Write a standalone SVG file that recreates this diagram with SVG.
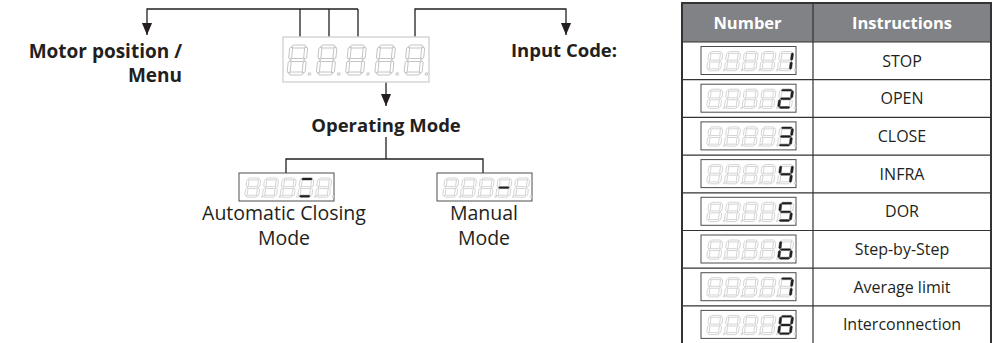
<svg xmlns="http://www.w3.org/2000/svg" xmlns:xlink="http://www.w3.org/1999/xlink" width="997" height="343" viewBox="0 0 997 343">
<style>
.lbl{font-family:"Open Sans","Noto Sans","Liberation Sans",sans-serif;fill:#231f20}
.b{font-weight:bold;font-size:18.5px}
.r{font-size:19.5px}
.th{font-family:"Open Sans","Noto Sans","Liberation Sans",sans-serif;font-weight:bold;font-size:16.5px;fill:#fff}
.td{font-family:"Open Sans","Noto Sans","Liberation Sans",sans-serif;font-size:16px;fill:#231f20}
.con{fill:none;stroke:#231f20;stroke-width:1.3}
.grid{stroke:#333;stroke-width:1.2}
</style>
<defs>
<marker id="ah" markerUnits="userSpaceOnUse" markerWidth="12" markerHeight="13" refX="13" refY="5.5" orient="auto" viewBox="0 0 13 11">
<path d="M0,0 L13,5.5 L0,11 Z" fill="#231f20"/>
</marker>
<path id="sa" d="M2,1.5 L3.5,0 L14.5,0 L16,1.5 L14.5,3 L3.5,3 Z"/>
<path id="sg" d="M2,15 L3.5,13.5 L14.5,13.5 L16,15 L14.5,16.5 L3.5,16.5 Z"/>
<path id="sd" d="M2,28.5 L3.5,27 L14.5,27 L16,28.5 L14.5,30 L3.5,30 Z"/>
<path id="sf" d="M1.5,2 L3,3.5 L3,12.5 L1.5,14 L0,12.5 L0,3.5 Z"/>
<path id="sb" d="M16.5,2 L18,3.5 L18,12.5 L16.5,14 L15,12.5 L15,3.5 Z"/>
<path id="se" d="M1.5,16 L3,17.5 L3,26.5 L1.5,28 L0,26.5 L0,17.5 Z"/>
<path id="sc" d="M16.5,16 L18,17.5 L18,26.5 L16.5,28 L15,26.5 L15,17.5 Z"/>
<g id="dg" fill="#fff" stroke="#c4c4c4" stroke-width="1">
<use href="#sa"/><use href="#sb"/><use href="#sc"/><use href="#sd"/><use href="#se"/><use href="#sf"/><use href="#sg"/>
<circle cx="22.5" cy="29" r="1.3"/>
</g>
<g id="small">
<rect x="0" y="0" width="95" height="28" fill="#fff" stroke="#4d4d4d" stroke-width="1"/>
<use href="#dg" transform="translate(8,5) scale(0.78,0.64) skewX(-6)"/>
<use href="#dg" transform="translate(25.7,5) scale(0.78,0.64) skewX(-6)"/>
<use href="#dg" transform="translate(43.4,5) scale(0.78,0.64) skewX(-6)"/>
<use href="#dg" transform="translate(61.1,5) scale(0.78,0.64) skewX(-6)"/>
<use href="#dg" transform="translate(78.8,5) scale(0.78,0.64) skewX(-6)"/>
</g>
</defs>
<rect width="997" height="343" fill="#fff"/>

<g id="connectors">
<path class="con" d="M300,37 V9 M329,37 V9 M358,37 V9 M358,9 H147 V35" marker-end="url(#ah)"/>
<path class="con" d="M415,37 V9 H566 V35" marker-end="url(#ah)"/>
<path class="con" d="M386,82 V106" marker-end="url(#ah)"/>
<path class="con" d="M386,137 V159 M286,173 V159 H483 V173"/>
</g>

<g id="main-display">
<rect x="283" y="37" width="146" height="45" fill="#fff" stroke="#d6d6d6" stroke-width="1.5"/>
<use href="#dg" transform="translate(290,45) skewX(-6)"/>
<use href="#dg" transform="translate(319.25,45) skewX(-6)"/>
<use href="#dg" transform="translate(348.5,45) skewX(-6)"/>
<use href="#dg" transform="translate(377.75,45) skewX(-6)"/>
<use href="#dg" transform="translate(407,45) skewX(-6)"/>
</g>

<g id="motor-position">
<text class="lbl b" x="182" y="58" text-anchor="end" style="font-size:19px">Motor position /</text>
<text class="lbl b" x="182" y="82" text-anchor="end" style="font-size:19px">Menu</text>
</g>
<g id="input-code">
<text class="lbl b" x="564" y="57" text-anchor="middle">Input Code:</text>
</g>
<g id="operating-mode">
<text class="lbl b" x="386" y="132" text-anchor="middle">Operating Mode</text>
</g>

<g id="auto-closing-mode">
<use href="#small" x="239" y="173"/>
<g transform="translate(239,173)"><g transform="translate(61.1,5) scale(0.78,0.64) skewX(-6)" fill="#231f20" stroke="#231f20" stroke-width="0.4"><use href="#sa"/><use href="#sd"/></g></g>
<text class="lbl r" x="284" y="220" text-anchor="middle">Automatic Closing</text>
<text class="lbl r" x="284" y="245" text-anchor="middle">Mode</text>
</g>

<g id="manual-mode">
<use href="#small" x="437" y="173"/>
<g transform="translate(437,173)"><g transform="translate(61.1,5) scale(0.78,0.64) skewX(-6)" fill="#231f20" stroke="#231f20" stroke-width="0.4"><use href="#sg"/></g></g>
<text class="lbl r" x="484" y="220" text-anchor="middle">Manual</text>
<text class="lbl r" x="484" y="245" text-anchor="middle">Mode</text>
</g>

<g id="table">
<rect x="682" y="3" width="309" height="39" fill="#808285"/>
<g class="grid">
<line x1="682" y1="42" x2="991" y2="42"/>
<line x1="682" y1="79.7" x2="991" y2="79.7"/>
<line x1="682" y1="117.4" x2="991" y2="117.4"/>
<line x1="682" y1="155.1" x2="991" y2="155.1"/>
<line x1="682" y1="192.8" x2="991" y2="192.8"/>
<line x1="682" y1="230.5" x2="991" y2="230.5"/>
<line x1="682" y1="268.2" x2="991" y2="268.2"/>
<line x1="682" y1="305.9" x2="991" y2="305.9"/>
<line x1="813" y1="3" x2="813" y2="345"/>
</g>
<rect x="682" y="3" width="309" height="345" fill="none" stroke="#333" stroke-width="2"/>
<text class="th" x="747.5" y="28.5" text-anchor="middle">Number</text>
<text class="th" x="902" y="28.5" text-anchor="middle">Instructions</text>

<g id="row1">
<use href="#small" x="701" y="46.5"/>
<g transform="translate(779.8,51.5) scale(0.78,0.64) skewX(-6)" fill="#231f20" stroke="#231f20" stroke-width="0.4"><use href="#sb"/><use href="#sc"/></g>
<text class="td" x="902" y="66.5" text-anchor="middle">STOP</text>
</g>
<g id="row2">
<use href="#small" x="701" y="84.2"/>
<g transform="translate(779.8,89.2) scale(0.78,0.64) skewX(-6)" fill="#231f20" stroke="#231f20" stroke-width="0.4"><use href="#sa"/><use href="#sb"/><use href="#sg"/><use href="#se"/><use href="#sd"/></g>
<text class="td" x="902" y="104.2" text-anchor="middle">OPEN</text>
</g>
<g id="row3">
<use href="#small" x="701" y="121.9"/>
<g transform="translate(779.8,126.9) scale(0.78,0.64) skewX(-6)" fill="#231f20" stroke="#231f20" stroke-width="0.4"><use href="#sa"/><use href="#sb"/><use href="#sg"/><use href="#sc"/><use href="#sd"/></g>
<text class="td" x="902" y="141.9" text-anchor="middle">CLOSE</text>
</g>
<g id="row4">
<use href="#small" x="701" y="159.6"/>
<g transform="translate(779.8,164.6) scale(0.78,0.64) skewX(-6)" fill="#231f20" stroke="#231f20" stroke-width="0.4"><use href="#sf"/><use href="#sg"/><use href="#sb"/><use href="#sc"/></g>
<text class="td" x="902" y="179.6" text-anchor="middle">INFRA</text>
</g>
<g id="row5">
<use href="#small" x="701" y="197.3"/>
<g transform="translate(779.8,202.3) scale(0.78,0.64) skewX(-6)" fill="#231f20" stroke="#231f20" stroke-width="0.4"><use href="#sa"/><use href="#sf"/><use href="#sg"/><use href="#sc"/><use href="#sd"/></g>
<text class="td" x="902" y="217.3" text-anchor="middle">DOR</text>
</g>
<g id="row6">
<use href="#small" x="701" y="235"/>
<g transform="translate(779.8,240) scale(0.78,0.64) skewX(-6)" fill="#231f20" stroke="#231f20" stroke-width="0.4"><use href="#sf"/><use href="#se"/><use href="#sg"/><use href="#sc"/><use href="#sd"/></g>
<text class="td" x="902" y="255" text-anchor="middle">Step-by-Step</text>
</g>
<g id="row7">
<use href="#small" x="701" y="272.7"/>
<g transform="translate(779.8,277.7) scale(0.78,0.64) skewX(-6)" fill="#231f20" stroke="#231f20" stroke-width="0.4"><use href="#sa"/><use href="#sb"/><use href="#sc"/></g>
<text class="td" x="902" y="292.7" text-anchor="middle">Average limit</text>
</g>
<g id="row8">
<use href="#small" x="701" y="310.4"/>
<g transform="translate(779.8,315.4) scale(0.78,0.64) skewX(-6)" fill="#231f20" stroke="#231f20" stroke-width="0.4"><use href="#sa"/><use href="#sb"/><use href="#sc"/><use href="#sd"/><use href="#se"/><use href="#sf"/><use href="#sg"/></g>
<text class="td" x="902" y="330.4" text-anchor="middle">Interconnection</text>
</g>
</g>
</svg>
